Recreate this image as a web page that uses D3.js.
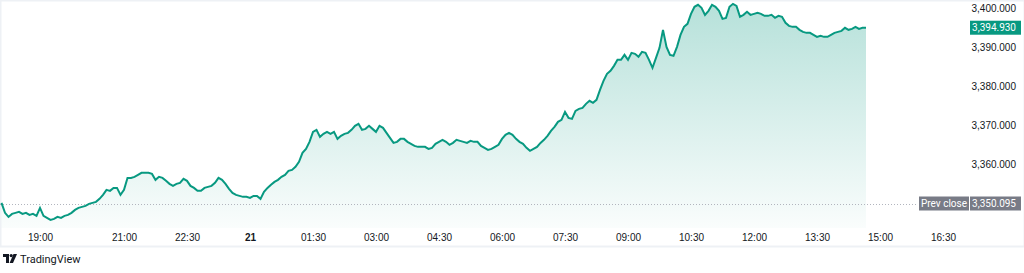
<!DOCTYPE html>
<html>
<head>
<meta charset="utf-8">
<script src="https://cdn.jsdelivr.net/npm/d3@7"></script>
<style>
  body { margin: 0; background: #fff; }
  svg { display: block; font-family: Roboto, "Noto Sans", sans-serif; }
</style>
</head>
<body>
<svg id="chart" width="1024" height="273"></svg>
<script>
// price every 5 minutes, from 20th 18:05 to 21st 14:40
var startTime = "20 18:05",
    stepMinutes = 5;

var prices = [
  3350.26, 3347.71, 3346.68, 3347.45, 3347.71, 3347.96, 3347.45, 3347.71, 3347.19, 3347.45,
  3346.94, 3348.98, 3346.94, 3346.43, 3345.92, 3346.17, 3346.68, 3346.43, 3346.94, 3347.19,
  3347.71, 3348.47, 3348.98, 3349.24, 3349.49, 3350.00, 3350.26, 3350.51, 3351.28, 3352.30,
  3353.57, 3353.32, 3354.08, 3354.08, 3352.30, 3353.57, 3356.63, 3356.63, 3356.89, 3357.40,
  3357.91, 3357.91, 3357.91, 3357.65, 3356.12, 3356.89, 3356.63, 3355.87, 3355.10, 3354.59,
  3355.10, 3355.36, 3356.38, 3355.87, 3354.59, 3354.08, 3353.32, 3353.32, 3354.08, 3354.34,
  3354.59, 3355.36, 3356.63, 3356.12, 3355.10, 3353.83, 3352.81, 3352.30, 3352.04, 3351.79,
  3351.79, 3351.53, 3352.04, 3352.04, 3351.28, 3353.06, 3354.08, 3354.85, 3355.61, 3356.12,
  3356.89, 3357.40, 3358.42, 3358.67, 3359.44, 3360.72, 3363.01, 3364.03, 3365.82, 3368.37,
  3368.88, 3367.09, 3367.86, 3368.37, 3367.86, 3368.37, 3366.58, 3367.35, 3367.86, 3368.11,
  3368.88, 3369.90, 3370.41, 3368.88, 3369.13, 3369.90, 3369.13, 3368.37, 3369.90, 3369.39,
  3368.11, 3366.84, 3365.56, 3365.82, 3366.58, 3366.58, 3365.82, 3365.31, 3364.80, 3364.54,
  3364.54, 3364.54, 3364.03, 3364.29, 3365.31, 3365.82, 3366.33, 3365.82, 3365.05, 3365.56,
  3366.33, 3366.07, 3365.82, 3365.56, 3366.07, 3365.82, 3365.82, 3364.80, 3364.29, 3363.78,
  3364.03, 3364.54, 3365.05, 3366.58, 3367.60, 3368.11, 3367.60, 3366.58, 3365.82, 3365.31,
  3364.29, 3363.52, 3364.03, 3364.54, 3365.56, 3366.33, 3367.35, 3368.62, 3369.64, 3370.92,
  3371.43, 3373.47, 3371.94, 3371.68, 3373.72, 3374.23, 3374.49, 3375.51, 3376.28, 3375.77,
  3376.53, 3379.08, 3381.38, 3383.16, 3383.93, 3385.20, 3386.73, 3386.73, 3388.01, 3386.73,
  3388.52, 3388.27, 3387.50, 3388.78, 3388.52, 3386.73, 3384.69, 3387.24, 3389.80, 3394.39,
  3390.05, 3388.01, 3387.76, 3390.05, 3393.11, 3395.15, 3395.92, 3398.47, 3400.26, 3400.77,
  3400.00, 3398.21, 3399.23, 3400.77, 3400.26, 3399.23, 3397.19, 3397.45, 3400.26, 3401.02,
  3400.51, 3397.70, 3398.21, 3398.98, 3398.21, 3398.47, 3398.72, 3398.47, 3397.96, 3397.96,
  3398.21, 3397.45, 3397.96, 3397.70, 3396.17, 3395.41, 3395.15, 3395.15, 3394.39, 3393.88,
  3393.62, 3393.62, 3393.11, 3392.60, 3392.86, 3392.60, 3392.60, 3393.11, 3393.62, 3393.88,
  3394.13, 3394.90, 3394.39, 3394.64, 3395.15, 3394.64, 3394.90, 3394.93
];

var prevClose = 3350.095;
var priceTicks = [3360, 3370, 3380, 3390, 3400];
var timeTicks = ["20 19:00", "20 21:00", "20 22:30", "21 00:00", "21 01:30", "21 03:00",
                 "21 04:30", "21 06:00", "21 07:30", "21 09:00", "21 10:30", "21 12:00",
                 "21 13:30", "21 15:00", "21 16:30"];

var parse = d3.timeParse("%d %H:%M");
var t0 = parse(startTime);
var data = prices.map(function(p, i) {
  return { t: d3.timeMinute.offset(t0, i * stepMinutes), v: p };
});

var green = "#089981",
    grey = "#787b86",
    ink = "#131722";

var plotW = 964, plotH = 228;

var x = d3.scaleTime()
    .domain([parse("20 18:05"), parse("21 17:00")])
    .range([1.5, plotW]);

var y = d3.scaleLinear()
    .domain([3344, 3402])
    .range([227.4, 0]);

var svg = d3.select("#chart");

var defs = svg.append("defs");
var grad = defs.append("linearGradient")
    .attr("id", "fill")
    .attr("gradientUnits", "userSpaceOnUse")
    .attr("x1", 0).attr("y1", 0).attr("x2", 0).attr("y2", plotH);
grad.append("stop").attr("offset", 0).attr("stop-color", green).attr("stop-opacity", 0.3);
grad.append("stop").attr("offset", 1).attr("stop-color", green).attr("stop-opacity", 0.02);

// frame
svg.append("rect")
    .attr("x", 0.5).attr("y", 0.5)
    .attr("width", 1024).attr("height", 246)
    .attr("fill", "none")
    .attr("stroke", "#eef1f5")
    .attr("stroke-width", 2);

var area = d3.area()
    .x(function(d) { return x(d.t); })
    .y0(plotH)
    .y1(function(d) { return y(d.v); });

var line = d3.line()
    .x(function(d) { return x(d.t); })
    .y(function(d) { return y(d.v); });

svg.append("path")
    .datum(data)
    .attr("d", area)
    .attr("fill", "url(#fill)");

// prev close dotted line
svg.append("line")
    .attr("x1", 0).attr("x2", 918)
    .attr("y1", Math.round(y(prevClose)) + 0.5).attr("y2", Math.round(y(prevClose)) + 0.5)
    .attr("stroke", "#b2b5be")
    .attr("stroke-width", 1)
    .attr("stroke-dasharray", "1,2");

svg.append("path")
    .datum(data)
    .attr("d", line)
    .attr("fill", "none")
    .attr("stroke", green)
    .attr("stroke-width", 2)
    .attr("stroke-linejoin", "miter")
    .attr("stroke-miterlimit", 3);

// price axis
var yAxis = svg.append("g")
    .attr("transform", "translate(1016,0)")
    .call(d3.axisLeft(y).tickValues(priceTicks).tickSize(0).tickFormat(d3.format(",.3f")));
yAxis.select(".domain").remove();
yAxis.selectAll("text")
    .attr("x", 0)
    .attr("fill", ink)
    .attr("font-size", 10)
    .attr("font-family", null);

// last price badge
var last = data[data.length - 1];
svg.append("rect")
    .attr("x", 970).attr("y", y(last.v) - 7)
    .attr("width", 51).attr("height", 14)
    .attr("fill", green);
svg.append("text")
    .attr("x", 1016).attr("y", y(last.v))
    .attr("dy", "0.35em")
    .attr("text-anchor", "end")
    .attr("font-size", 10)
    .attr("fill", "#fff")
    .text(d3.format(",.3f")(last.v));

// prev close badge
var pcY = y(prevClose);
svg.append("rect")
    .attr("x", 919).attr("y", pcY - 7)
    .attr("width", 50).attr("height", 14)
    .attr("fill", grey);
svg.append("rect")
    .attr("x", 970).attr("y", pcY - 7)
    .attr("width", 51).attr("height", 14)
    .attr("fill", grey);
svg.append("text")
    .attr("x", 944).attr("y", pcY)
    .attr("dy", "0.35em")
    .attr("text-anchor", "middle")
    .attr("font-size", 10)
    .attr("fill", "#fff")
    .text("Prev close");
svg.append("text")
    .attr("x", 1016).attr("y", pcY)
    .attr("dy", "0.35em")
    .attr("text-anchor", "end")
    .attr("font-size", 10)
    .attr("fill", "#fff")
    .text(d3.format(",.3f")(prevClose));

// time axis
var tickDates = timeTicks.map(parse);
var xAxis = svg.append("g")
    .attr("transform", "translate(0,231)")
    .call(d3.axisBottom(x).tickValues(tickDates).tickSize(0)
      .tickFormat(function(d) {
        return d.getHours() === 0 && d.getMinutes() === 0 ? d3.timeFormat("%-d")(d) : d3.timeFormat("%H:%M")(d);
      }));
xAxis.select(".domain").remove();
xAxis.selectAll("text")
    .attr("fill", ink)
    .attr("font-size", 10)
    .attr("font-family", null)
    .attr("font-weight", function(d) { return d.getHours() === 0 ? "bold" : null; });

// TradingView mark
var logo = svg.append("g").attr("transform", "translate(3,254)");
logo.append("path")
    .attr("d", "M0,0H6V9H3V3H0Z")
    .attr("fill", ink);
logo.append("circle").attr("cx", 8.2).attr("cy", 1.6).attr("r", 1.6).attr("fill", ink);
logo.append("path")
    .attr("d", "M10.5,0H14L10,9H6.6Z")
    .attr("fill", ink);
svg.append("text")
    .attr("x", 20).attr("y", 263)
    .attr("font-size", 11)
    .attr("fill", ink)
    .text("TradingView");
</script>
</body>
</html>
